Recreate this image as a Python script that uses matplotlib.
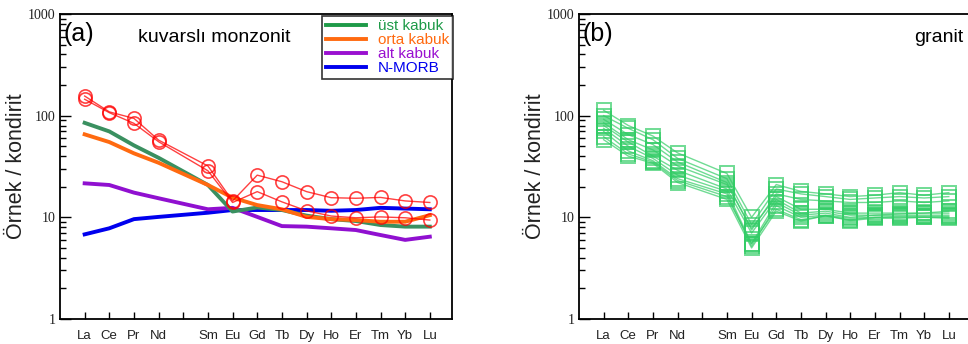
import numpy as np
import matplotlib.pyplot as plt
from matplotlib.ticker import LogLocator, NullFormatter, FixedLocator

elements = ["La", "Ce", "Pr", "Nd", "", "Sm", "Eu", "Gd", "Tb", "Dy", "Ho", "Er", "Tm", "Yb", "Lu"]
# positions of the plotted elements (Pm is left empty)
ree_pos = [0, 1, 2, 3, 5, 6, 7, 8, 9, 10, 11, 12, 13, 14]

# reference compositions (chondrite normalised)
ust_kabuk = [85, 70, 51, 38.5, 20.8, 11.4, 12.5, 11.8, 10.4, 9.6, 9.2, 8.4, 8.1, 8.1]
orta_kabuk = [65.5, 55, 42.6, 34.4, 20.8, 15.6, 13.2, 12.0, 10.1, 9.6, 9.4, 9.05, 9.05, 10.5]
alt_kabuk = [21.6, 20.8, 17.5, 15.4, 12.0, 12.4, 10.1, 8.2, 8.1, 7.8, 7.5, 6.7, 6.0, 6.45]
n_morb = [6.8, 7.8, 9.6, 10.1, 11.1, 11.8, 11.8, 11.8, 11.8, 11.6, 11.8, 12.4, 12.2, 12.0]

# kuvarsli monzonit samples
monzonit_1 = [156, 109, 94, 57.5, 32, 14.5, 26, 22.4, 17.9, 15.6, 15.4, 15.7, 14.5, 14.0]
monzonit_2 = [145, 107, 84, 55.4, 28.7, 14.0, 17.9, 14.2, 11.6, 10.3, 9.9, 10.1, 9.9, 9.4]

# granit samples
granit_1 = [113, 80, 63, 43, 27, 10.0, 21, 18, 17, 16, 16.5, 17.5, 16.5, 17.5]
granit_2 = [100, 75, 58, 38, 24, 8.5, 19, 17, 16, 15, 15.5, 16, 15.5, 16]
granit_3 = [92, 65, 52, 35, 22, 7.5, 17, 15, 14.5, 14, 14, 14.5, 14, 14.5]
granit_4 = [85, 58, 46, 32, 21, 7.8, 16, 12, 12, 11, 11, 11, 11, 11.5]
granit_5 = [80, 55, 40, 29, 19, 7.0, 15, 11, 11.5, 10.5, 10.5, 10.8, 11, 11]
granit_6 = [75, 50, 38, 26, 18, 5.5, 14, 10.5, 11, 10, 10.5, 10.5, 10.5, 10.5]
granit_7 = [70, 45, 36, 24, 17, 5.2, 13, 10, 10.5, 9.8, 10, 10.2, 10.2, 10.2]
granit_8 = [62, 42, 35, 23, 16, 5.5, 12, 9.5, 10.3, 9.5, 10, 10, 10, 10]
granit_9 = [58, 40, 34, 22, 15, 5.0, 11.5, 9.2, 10.4, 9.3, 9.8, 9.8, 10, 9.8]

granit = [granit_1, granit_2, granit_3, granit_4, granit_5,
          granit_6, granit_7, granit_8, granit_9]


def setup_axes(ax):
    ax.set_yscale("log")
    ax.set_ylim(1, 1000)
    ax.set_xlim(-1, 14.9)
    ax.set_xticks(range(len(elements)))
    ax.set_xticklabels(elements, fontsize=9.5, family="Liberation Sans", color="#222222")
    ax.tick_params(axis="x", direction="in", length=5, width=1, pad=8)
    ax.yaxis.set_major_locator(FixedLocator([1, 10, 100, 1000]))
    ax.yaxis.set_minor_locator(LogLocator(base=10, subs=np.arange(2, 10)))
    ax.yaxis.set_minor_formatter(NullFormatter())
    ax.set_yticklabels(["1", "10", "100", "1000"], fontsize=10, family="Liberation Serif",
                       color="#222222")
    ax.tick_params(axis="y", which="major", direction="in", length=8, width=1, pad=3)
    ax.tick_params(axis="y", which="minor", direction="in", length=4, width=1)
    for s in ax.spines.values():
        s.set_linewidth(1.3)
    ax.set_ylabel("Örnek / kondirit", fontsize=15.5, family="Liberation Sans",
                  labelpad=1, color="#222222")


fig = plt.figure(figsize=(9.68, 3.44), dpi=100)
ax1 = fig.add_axes([60 / 968, 25 / 344, 392 / 968, 305 / 344])
ax2 = fig.add_axes([579 / 968, 25 / 344, 392 / 968, 305 / 344])

# panel (a)
setup_axes(ax1)
for sample in [monzonit_1, monzonit_2]:
    ax1.plot(ree_pos, sample, color="red", lw=1.0, alpha=0.75,
             marker="o", ms=9.5, mfc="none", mec="red", mew=1.2, zorder=3)

ax1.plot(ree_pos, n_morb, color="#0000ee", lw=2.8, label="N-MORB", zorder=2)
ax1.plot(ree_pos, alt_kabuk, color="#9010d0", lw=2.8, label="alt kabuk", zorder=2)
ax1.plot(ree_pos, ust_kabuk, color="#3a9060", lw=2.8, label="üst kabuk", zorder=2)
ax1.plot(ree_pos, orta_kabuk, color="#ff6a10", lw=2.8, label="orta kabuk", zorder=2)

handles, labels = ax1.get_legend_handles_labels()
order = [labels.index(l) for l in ["üst kabuk", "orta kabuk", "alt kabuk", "N-MORB"]]
leg = ax1.legend([handles[i] for i in order], [labels[i] for i in order],
                 loc="upper right", bbox_to_anchor=(1.003, 0.995),
                 prop={"family": "Liberation Sans", "size": 11},
                 frameon=True, fancybox=False, edgecolor="black",
                 handlelength=2.6, labelspacing=0.0, borderpad=0.25, handletextpad=0.8,
                 borderaxespad=0)
leg.get_frame().set_linewidth(1.2)
leg_colors = ["#1e9a48", "#ff6a10", "#9a10d0", "#0000ee"]
for txt, c in zip(leg.get_texts(), leg_colors):
    txt.set_color(c)
for h, c in zip(leg.legend_handles, leg_colors):
    h.set_color(c)

ax1.text(0.01, 0.975, "(a)", transform=ax1.transAxes, fontsize=18,
         family="Liberation Sans", va="top", ha="left")
ax1.text(0.2, 0.95, "kuvarslı monzonit", transform=ax1.transAxes, fontsize=14,
         family="Liberation Sans", va="top", ha="left")

# panel (b)
setup_axes(ax2)
for sample in granit:
    ax2.plot(ree_pos, sample, color="#33cc66", lw=1.0, alpha=0.7,
             marker="s", ms=9.5, mfc="none", mec="#33cc66", mew=1.4)

ax2.text(0.01, 0.975, "(b)", transform=ax2.transAxes, fontsize=18,
         family="Liberation Sans", va="top", ha="left")
ax2.text(0.98, 0.95, "granit", transform=ax2.transAxes, fontsize=14,
         family="Liberation Sans", va="top", ha="right")

fig.savefig("out.png", dpi=100)
